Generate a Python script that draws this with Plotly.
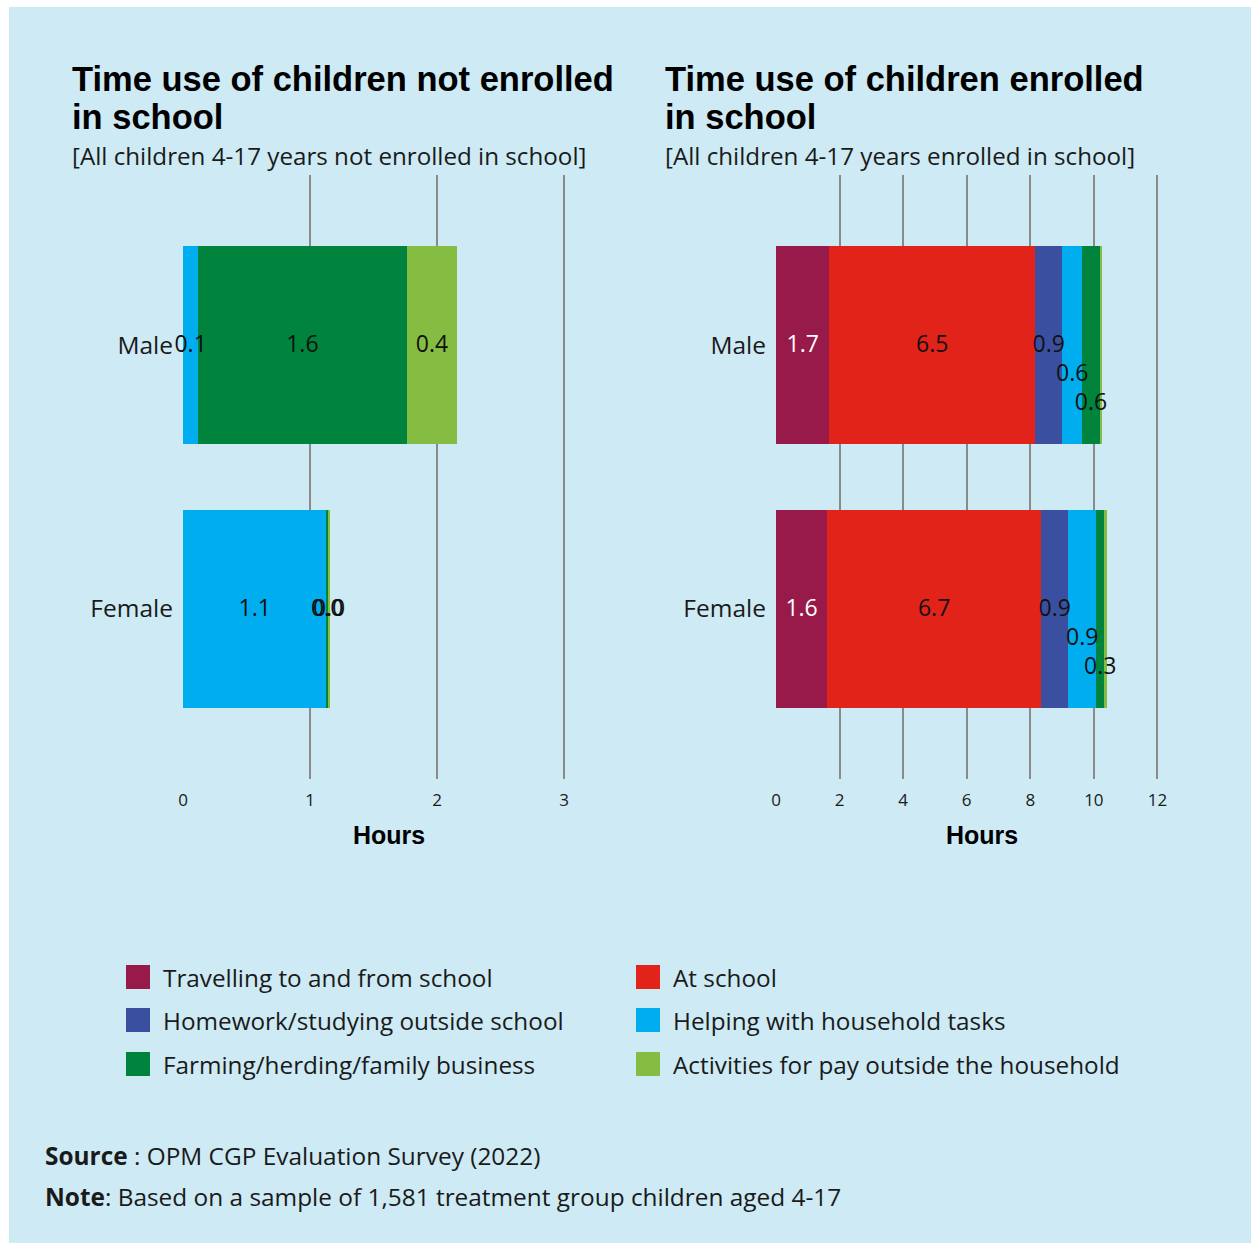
import plotly.graph_objects as go

W, H = 1251, 1243

# ---- data -------------------------------------------------------------
activities = [
    "Travelling to and from school",
    "At school",
    "Homework/studying outside school",
    "Helping with household tasks",
    "Farming/herding/family business",
    "Activities for pay outside the household",
]
groups = ["Male", "Female"]

# average hours per day, children 4-17 not enrolled in school
not_enrolled_male = [0.0, 0.0, 0.0, 0.12, 1.64, 0.40]
not_enrolled_female = [0.0, 0.0, 0.0, 1.13, 0.01, 0.02]

# average hours per day, children 4-17 enrolled in school
enrolled_male = [1.68, 6.47, 0.86, 0.62, 0.56, 0.08]
enrolled_female = [1.61, 6.73, 0.86, 0.87, 0.26, 0.09]

left_ticks = [0, 1, 2, 3]
right_ticks = [0, 2, 4, 6, 8, 10, 12]

# ---- styling ----------------------------------------------------------
colors = ["#971a4a", "#e2231a", "#3a4fa0", "#00aeef", "#00843d", "#84bd41"]
label_colors = ["#ffffff", "#111111", "#111111", "#111111", "#111111", "#111111"]
BG = "#cdeaf5"
INK = "#1a1a1a"
GRID = "#8a8a8a"
FONT = "Open Sans"
TITLE_FONT = "Liberation Sans"


def px_x(p):
    return p / W


def px_y(p):
    return 1 - p / H


# plot areas (pixels)
top_px, bottom_px = 175, 779
left_dom = (183, 595)
right_dom = (776, 1187)
left_range = [0, 3.244]
right_range = [0, 12.93]
y_range = [1.646, -0.646]
bar_width = 0.753
unit_px = (bottom_px - top_px) / (y_range[0] - y_range[1])

panels = [
    dict(data=[not_enrolled_male, not_enrolled_female], xa="x", ya="y",
         dom=left_dom, rng=left_range, ticks=left_ticks, min_label=0.0, stagger=False),
    dict(data=[enrolled_male, enrolled_female], xa="x2", ya="y2",
         dom=right_dom, rng=right_range, ticks=right_ticks, min_label=0.1, stagger=True),
]

fig = go.Figure()

for p in panels:
    male, female = p["data"]
    for i, name in enumerate(activities):
        fig.add_trace(go.Bar(
            x=[male[i], female[i]], y=[0, 1], orientation="h",
            name=name, marker=dict(color=colors[i], line=dict(width=0)),
            width=bar_width, xaxis=p["xa"], yaxis=p["ya"], showlegend=False,
            hoverinfo="x+name",
        ))

    # value labels centred on each segment; crowded ones step downward
    px_per_unit = (p["dom"][1] - p["dom"][0]) / (p["rng"][1] - p["rng"][0])
    step = 29 / unit_px
    nudge = 1.5 / unit_px
    for gi, vals in enumerate(p["data"]):
        start = 0.0
        prev_px, level = None, 0
        lx, ly, lt, lc = [], [], [], []
        for i, v in enumerate(vals):
            centre = start + v / 2
            start += v
            if v <= 0 or v < p["min_label"]:
                continue
            cpx = centre * px_per_unit
            if p["stagger"] and prev_px is not None and abs(cpx - prev_px) < 30:
                level += 1
            else:
                level = 0
            prev_px = cpx
            lx.append(centre)
            ly.append(gi + nudge + level * step)
            lt.append(f"{v:.1f}")
            lc.append(label_colors[i])
        fig.add_trace(go.Scatter(
            x=lx, y=ly, mode="text", text=lt,
            textfont=dict(family=FONT, size=23, color=lc),
            xaxis=p["xa"], yaxis=p["ya"], showlegend=False,
            hoverinfo="skip", cliponaxis=False,
        ))

ydom = [px_y(bottom_px), px_y(top_px)]


def xaxis_cfg(p):
    return dict(
        domain=[px_x(p["dom"][0]), px_x(p["dom"][1])], range=p["rng"],
        tickvals=p["ticks"], showgrid=True, gridcolor=GRID, gridwidth=1.5,
        zeroline=False, showline=False, ticks="", fixedrange=True,
        tickfont=dict(family=FONT, size=17, color=INK), ticklabelstandoff=9,
        automargin=False,
    )


def yaxis_cfg(anchor):
    return dict(
        domain=ydom, range=y_range, tickvals=[0, 1], ticktext=groups,
        showgrid=False, zeroline=False, showline=False, ticks="",
        tickfont=dict(family=FONT, size=24.5, color=INK), ticklabelstandoff=9,
        anchor=anchor, fixedrange=True, automargin=False,
    )


shapes = [dict(type="rect", xref="paper", yref="paper",
               x0=px_x(9), x1=1, y0=0, y1=px_y(7),
               fillcolor=BG, line=dict(width=0), layer="below")]
annotations = []


def text(x, y, s, size, bold=False, family=FONT, xanchor="left", yanchor="middle"):
    annotations.append(dict(
        x=px_x(x), y=px_y(y), xref="paper", yref="paper", text=s,
        showarrow=False, xanchor=xanchor, yanchor=yanchor, align="left",
        borderpad=0,
        font=dict(family=family, size=size, color="#000000" if bold else INK,
                  weight="bold" if bold else "normal"),
    ))


# panel titles (two tight lines each, then the population note)
for x0, line1 in [(71, "Time use of children not enrolled"), (664, "Time use of children enrolled")]:
    text(x0, 79, line1, 34.5, bold=True, family=TITLE_FONT)
    text(x0, 117, "in school", 34.5, bold=True, family=TITLE_FONT)
text(71, 156, "[All children 4-17 years not enrolled in school]", 24.2)
text(664, 156, "[All children 4-17 years enrolled in school]", 24.2)

# axis titles
for p in panels:
    text((p["dom"][0] + p["dom"][1]) / 2, 835, "Hours", 25, bold=True,
         family=TITLE_FONT, xanchor="center")

# legend: two columns, three rows
legend_cols = [126, 636]
legend_rows = [977, 1020, 1064]
for i, name in enumerate(activities):
    cx = legend_cols[i % 2]
    cy = legend_rows[i // 2]
    shapes.append(dict(type="rect", xref="paper", yref="paper",
                       x0=px_x(cx), x1=px_x(cx + 24),
                       y0=px_y(cy + 12), y1=px_y(cy - 12),
                       fillcolor=colors[i], line=dict(width=0)))
    text(cx + 36, cy, name, 24.3)

# source and note
text(44, 1155, "<b>Source</b> : OPM CGP Evaluation Survey (2022)", 24.4)
text(44, 1196, "<b>Note</b>: Based on a sample of 1,581 treatment group children aged 4-17", 24.4)

fig.update_layout(
    width=W, height=H, margin=dict(l=0, r=0, t=0, b=0, autoexpand=False),
    paper_bgcolor="#ffffff", plot_bgcolor="rgba(0,0,0,0)",
    barmode="stack", bargap=0, showlegend=False,
    font=dict(family=FONT, color=INK),
    xaxis=dict(**xaxis_cfg(panels[0]), anchor="y"),
    yaxis=yaxis_cfg("x"),
    xaxis2=dict(**xaxis_cfg(panels[1]), anchor="y2"),
    yaxis2=yaxis_cfg("x2"),
    shapes=shapes, annotations=annotations,
)

fig.write_html("out.html")
